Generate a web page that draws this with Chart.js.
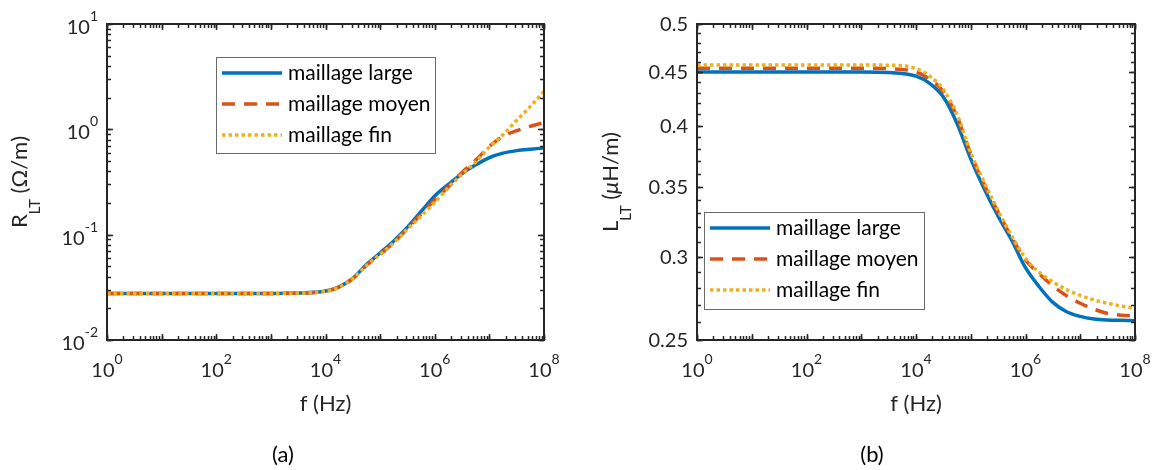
<!DOCTYPE html>
<html>
<head>
<meta charset="utf-8">
<script src="https://cdn.jsdelivr.net/npm/chart.js@4.4.1/dist/chart.umd.min.js"></script>
<style>
  html, body { margin: 0; padding: 0; background: #fff; width: 1157px; height: 470px; overflow: hidden; }
  .panel { position: absolute; top: 0; height: 470px; }
  #panelA { left: 0; width: 580px; }
  #panelB { left: 580px; width: 577px; }
  .caption { position: absolute; top: 440px; font: 22px Lato, sans-serif; color: #000; transform: translateX(-50%); }
</style>
</head>
<body>
<div class="panel" id="panelA"><canvas id="chartA" width="580" height="470"></canvas></div>
<div class="panel" id="panelB"><canvas id="chartB" width="577" height="470"></canvas></div>
<div class="caption" style="left:283px">(a)</div>
<div class="caption" style="left:872px">(b)</div>

<script>
/* ======================================================
   Data
====================================================== */

const seriesNames = ['maillage large', 'maillage moyen', 'maillage fin'];

// frequency samples, Hz
const freq = [1, 10, 100, 1000, 3162, 10000, 17783, 31623, 56234, 100000, 177828,
  316228, 562341, 1000000, 1778279, 3162278, 5623413, 10000000, 17782794,
  31622777, 56234133, 100000000];

// (a) R_LT, ohm/m
const rLarge = [0.0277, 0.0277, 0.0277, 0.0277, 0.0279, 0.0292, 0.0320, 0.0385, 0.052, 0.067, 0.087,
  0.118, 0.166, 0.233, 0.300, 0.380, 0.460, 0.540, 0.595, 0.628, 0.648, 0.665];
const rMoyen = [0.0277, 0.0277, 0.0277, 0.0277, 0.0279, 0.0290, 0.0318, 0.0383, 0.051, 0.065, 0.084,
  0.114, 0.157, 0.215, 0.285, 0.390, 0.510, 0.690, 0.860, 0.970, 1.070, 1.160];
const rFin = [0.0277, 0.0277, 0.0277, 0.0277, 0.0279, 0.0290, 0.0318, 0.0383, 0.051, 0.065, 0.084,
  0.113, 0.150, 0.203, 0.280, 0.375, 0.490, 0.680, 0.890, 1.220, 1.650, 2.300];

// (b) L_LT, uH/m
const lLarge = [0.450, 0.450, 0.450, 0.450, 0.4495, 0.446, 0.439, 0.426, 0.402, 0.372, 0.348,
  0.328, 0.311, 0.293, 0.281, 0.2715, 0.2660, 0.2633, 0.2618, 0.2612, 0.2610, 0.2608];
const lMoyen = [0.4537, 0.4537, 0.4537, 0.4537, 0.4533, 0.450, 0.443, 0.431, 0.408, 0.376, 0.351,
  0.331, 0.313, 0.298, 0.289, 0.2815, 0.2755, 0.2710, 0.2675, 0.2650, 0.2640, 0.2635];
const lFin = [0.457, 0.457, 0.457, 0.457, 0.4568, 0.4535, 0.446, 0.433, 0.410, 0.377, 0.353,
  0.332, 0.314, 0.299, 0.290, 0.2840, 0.2792, 0.2757, 0.2730, 0.2710, 0.2693, 0.2680];

// tick labels ('^' marks the exponent)
const xTicks = [1, 1e2, 1e4, 1e6, 1e8];
const xTickLabels = ['10^0', '10^2', '10^4', '10^6', '10^8'];
const rTicks = [0.01, 0.1, 1, 10];
const rTickLabels = ['10^-2', '10^-1', '10^0', '10^1'];
const lTicks = [0.25, 0.3, 0.35, 0.4, 0.45, 0.5];
const lTickLabels = ['0.25', '0.3', '0.35', '0.4', '0.45', '0.5'];

const colors = ['#0072BD', '#D95319', '#EDB120'];
const dashes = [[], [13, 9], [3.5, 3]];
const widths = [3.5, 3.5, 3.5];

/* ======================================================
   Helpers
====================================================== */

const FONT = 'Lato, "Open Sans", sans-serif';
const INK = '#262626';

function logMinor(lo, hi) {
  const out = [];
  for (let k = Math.floor(Math.log10(lo)); k <= Math.ceil(Math.log10(hi)); k++) {
    for (let m = 1; m <= 9; m++) {
      const v = m * Math.pow(10, k);
      if (v >= lo * 0.999 && v <= hi * 1.001) out.push(v);
    }
  }
  return out;
}

function stepMinor(lo, hi, step) {
  const out = [];
  for (let v = lo; v <= hi + 1e-9; v += step) out.push(+v.toFixed(4));
  return out;
}

// split '10^-1' into text parts
function labelParts(label) {
  const [base, exp] = label.split('^');
  const parts = [{ t: base, size: 20, dy: 0 }];
  if (exp !== undefined) parts.push({ t: exp, size: 14, dy: -13 });
  return parts;
}

function partsWidth(ctx, parts) {
  let w = 0;
  parts.forEach(p => {
    ctx.font = `${p.italic ? 'italic ' : ''}${p.size}px ${FONT}`;
    w += ctx.measureText(p.t).width;
  });
  return w;
}

function drawParts(ctx, parts, x, y) {
  parts.forEach(p => {
    ctx.font = `${p.italic ? 'italic ' : ''}${p.size}px ${FONT}`;
    ctx.fillText(p.t, x, y + p.dy);
    x += ctx.measureText(p.t).width;
  });
}

/* ======================================================
   MATLAB-like axes box, ticks, labels, legend
====================================================== */

const matlabAxes = {
  id: 'matlabAxes',
  afterDatasetsDraw(chart, args, o) {
    const { ctx, chartArea: a, scales: { x, y } } = chart;
    ctx.save();

    // inward ticks on all four sides
    ctx.strokeStyle = INK;
    ctx.lineWidth = 1.5;
    const tickX = (vals, len) => vals.forEach(v => {
      const px = Math.round(x.getPixelForValue(v)) + 0.5;
      ctx.beginPath();
      ctx.moveTo(px, a.bottom); ctx.lineTo(px, a.bottom - len);
      ctx.moveTo(px, a.top); ctx.lineTo(px, a.top + len);
      ctx.stroke();
    });
    const tickY = (vals, len) => vals.forEach(v => {
      const py = Math.round(y.getPixelForValue(v)) + 0.5;
      ctx.beginPath();
      ctx.moveTo(a.left, py); ctx.lineTo(a.left + len, py);
      ctx.moveTo(a.right, py); ctx.lineTo(a.right - len, py);
      ctx.stroke();
    });
    tickX(logMinor(x.min, x.max), 4);
    tickY(o.yMinor, 4);
    tickX(o.xMajor, 6);
    tickY(o.yMajor, 6);

    // box
    ctx.lineWidth = 2;
    ctx.strokeRect(a.left, a.top, a.right - a.left, a.bottom - a.top);

    // tick labels
    ctx.fillStyle = INK;
    ctx.textBaseline = 'alphabetic';
    ctx.textAlign = 'left';
    o.xTicks.forEach((v, i) => {
      const parts = labelParts(o.xLabels[i]);
      const w = partsWidth(ctx, parts);
      drawParts(ctx, parts, x.getPixelForValue(v) - w / 2, a.bottom + 37);
    });
    o.yTicks.forEach((v, i) => {
      const parts = labelParts(o.yLabels[i]);
      const w = partsWidth(ctx, parts);
      const hasExp = parts.length > 1;
      drawParts(ctx, parts, a.left - 9 - w, y.getPixelForValue(v) + (hasExp ? 10 : 7));
    });

    // axis titles
    const xt = [{ t: 'f (Hz)', size: 22, dy: 0 }];
    const xw = partsWidth(ctx, xt);
    drawParts(ctx, xt, (a.left + a.right) / 2 - xw / 2, 411);

    const yw = partsWidth(ctx, o.yTitle);
    ctx.save();
    ctx.translate(o.yTitleX, (a.top + a.bottom) / 2);
    ctx.rotate(-Math.PI / 2);
    drawParts(ctx, o.yTitle, -yw / 2, 0);
    ctx.restore();

    // legend
    const L = o.legend;
    ctx.fillStyle = '#fff';
    ctx.fillRect(L.x, L.y, L.w, L.h);
    ctx.strokeStyle = '#6a6a6a';
    ctx.lineWidth = 1;
    ctx.strokeRect(L.x + 0.5, L.y + 0.5, L.w, L.h);
    chart.data.datasets.forEach((ds, i) => {
      const ry = L.y + L.row0 + i * L.rowGap;
      ctx.strokeStyle = ds.borderColor;
      ctx.lineWidth = ds.borderWidth;
      ctx.lineCap = 'butt';
      ctx.setLineDash(ds.borderDash || []);
      ctx.beginPath();
      ctx.moveTo(L.x + 6, ry);
      ctx.lineTo(L.x + 66, ry);
      ctx.stroke();
      ctx.setLineDash([]);
      ctx.fillStyle = '#000';
      ctx.font = `21px ${FONT}`;
      ctx.fillText(ds.label, L.x + 72, ry + 7);
    });

    ctx.restore();
  }
};

/* ======================================================
   Chart factory
====================================================== */

function buildDatasets(series) {
  return series.map((vals, i) => ({
    label: seriesNames[i],
    data: freq.map((f, j) => ({ x: f, y: vals[j] })),
    borderColor: colors[i],
    borderWidth: widths[i],
    borderDash: dashes[i],
    borderCapStyle: 'butt',
    pointRadius: 0,
    fill: false,
    cubicInterpolationMode: 'monotone',
    order: 2 - i
  }));
}

function makeChart(id, cfg) {
  return new Chart(document.getElementById(id), {
    type: 'line',
    data: { datasets: buildDatasets(cfg.series) },
    options: {
      responsive: false,
      animation: false,
      layout: { padding: { top: 24, right: cfg.padRight, bottom: 30, left: 0 } },
      scales: {
        x: {
          type: 'logarithmic', min: 1, max: 1e8,
          ticks: { display: false }, grid: { display: false }, border: { display: false },
          afterFit: s => { s.height = 100; }
        },
        y: {
          type: cfg.yType, min: cfg.yMin, max: cfg.yMax,
          ticks: { display: false }, grid: { display: false }, border: { display: false },
          afterFit: s => { s.width = cfg.yWidth; }
        }
      },
      plugins: {
        legend: { display: false },
        tooltip: { enabled: false },
        matlabAxes: {
          xTicks, xLabels: xTickLabels,
          xMajor: logMinor(1, 1e8).filter(v => Math.abs(Math.log10(v) % 1) < 1e-9),
          yTicks: cfg.yTicks, yLabels: cfg.yLabels,
          yMajor: cfg.yTicks, yMinor: cfg.yMinor,
          yTitle: cfg.yTitle, yTitleX: cfg.yTitleX,
          legend: cfg.legend
        }
      }
    },
    plugins: [matlabAxes]
  });
}

makeChart('chartA', {
  series: [rLarge, rMoyen, rFin],
  yType: 'logarithmic', yMin: 0.01, yMax: 10,
  yTicks: rTicks, yLabels: rTickLabels, yMinor: logMinor(0.01, 10),
  yWidth: 107, padRight: 36,
  yTitle: [
    { t: 'R', size: 22, dy: 0 },
    { t: 'LT', size: 15, dy: 13 },
    { t: ' (\u03A9/m)', size: 22, dy: 0 }
  ],
  yTitleX: 27,
  legend: { x: 216, y: 57, w: 219, h: 96, row0: 16, rowGap: 31 }
});

makeChart('chartB', {
  series: [lLarge, lMoyen, lFin],
  yType: 'logarithmic', yMin: 0.25, yMax: 0.5,
  yTicks: lTicks, yLabels: lTickLabels, yMinor: stepMinor(0.25, 0.5, 0.01),
  yWidth: 117, padRight: 22,
  yTitle: [
    { t: 'L', size: 22, dy: 0 },
    { t: 'LT', size: 15, dy: 13 },
    { t: ' (', size: 22, dy: 0 },
    { t: '\u03BC', size: 22, dy: 0, italic: true },
    { t: 'H/m)', size: 22, dy: 0 }
  ],
  yTitleX: 38,
  legend: { x: 124, y: 212, w: 220, h: 97, row0: 16, rowGap: 31 }
});
</script>
</body>
</html>
